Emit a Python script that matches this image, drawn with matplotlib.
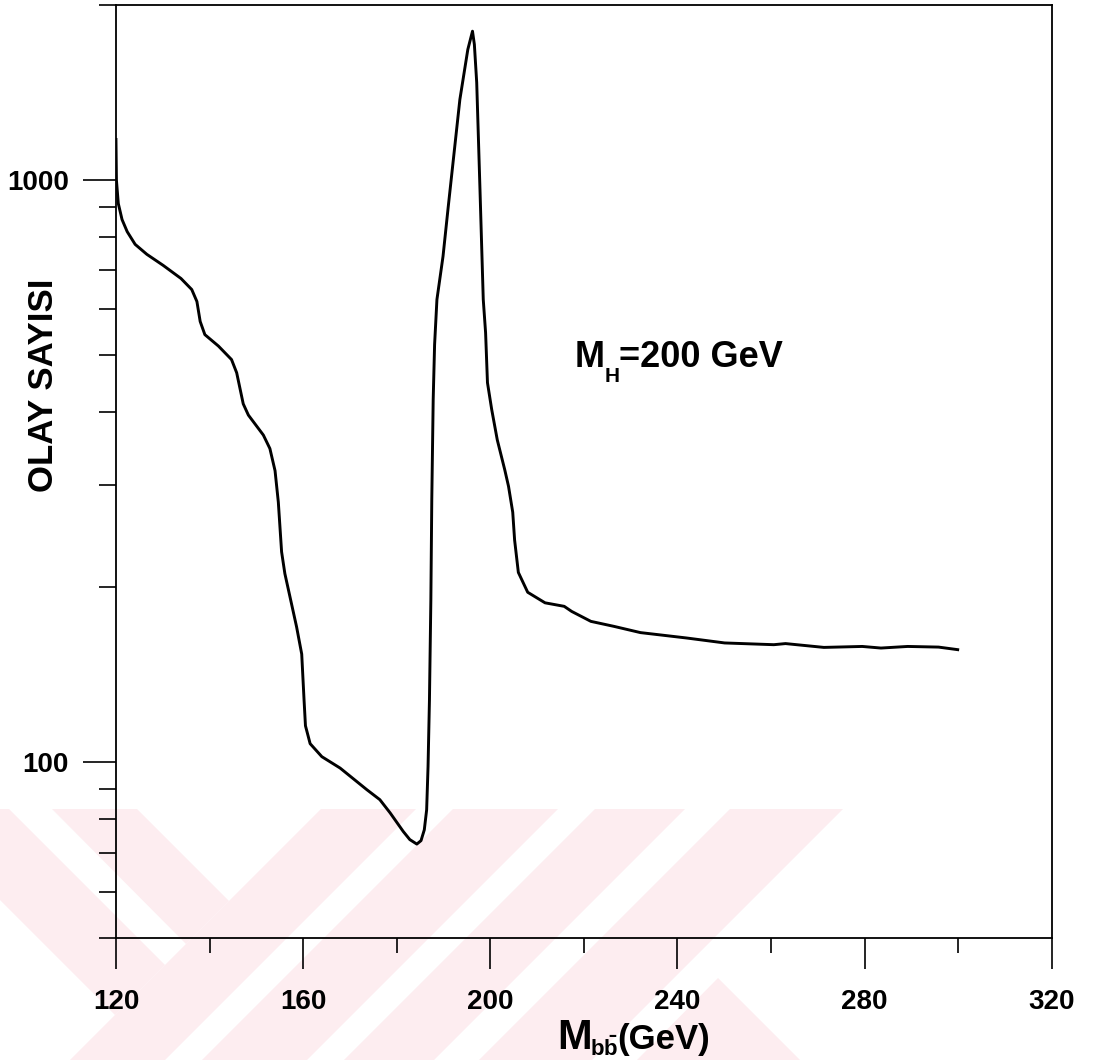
import matplotlib
matplotlib.use("Agg")
import matplotlib.pyplot as plt
from matplotlib.patches import Polygon
from matplotlib.ticker import FixedLocator, NullFormatter

plt.rcParams['font.family'] = ['Liberation Sans', 'DejaVu Sans']
plt.rcParams['mathtext.fontset'] = 'custom'
plt.rcParams['mathtext.rm'] = 'Liberation Sans'
plt.rcParams['mathtext.it'] = 'Liberation Sans'
plt.rcParams['mathtext.bf'] = 'Liberation Sans:bold'

# invariant mass of the b-bbar pair (GeV) and number of events
mbb = [120.0, 120.1, 120.5, 121.3, 122.4, 124.1, 126.6, 130.1, 133.9, 136.2,
       137.3, 138.0, 139.0, 141.9, 144.7, 145.8, 147.2, 148.3, 151.5, 152.9,
       154.0, 154.7, 155.4, 156.1, 157.6, 158.6, 159.7, 160.2, 160.5, 161.5,
       164.0, 167.9, 173.6, 176.4, 178.6, 181.4, 182.8, 184.3, 185.2, 185.9,
       186.4, 186.7, 187.0, 187.3, 187.5, 187.8, 188.1, 188.6, 189.9, 191.0,
       193.5, 195.2, 196.2, 196.6, 197.1, 197.8, 198.5, 199.0, 199.4, 200.3,
       201.5, 203.1, 203.9, 204.8, 205.2, 206.0, 208.0, 211.7, 215.8, 217.4,
       221.5, 226.4, 232.1, 241.9, 250.1, 260.6, 263.1, 271.3, 279.5, 283.5,
       289.2, 295.8, 299.9]
olay = [1175, 1000, 912, 856, 816, 776, 746, 714, 678, 649,
        619, 572, 543, 519, 492, 467, 413, 395, 365, 346,
        317, 280, 230, 211, 186, 171, 153.5, 128, 115.6, 107.7,
        102.3, 97.8, 89.8, 86.3, 81.9, 76.1, 73.7, 72.4, 73.4, 76.6,
        82.9, 98.4, 128, 190, 283, 420, 522, 624, 740, 898,
        1376, 1677, 1803, 1711, 1472, 964, 624, 547, 449, 404,
        358, 318, 298, 269, 241, 212, 196, 188, 185.4, 181.7,
        174.7, 171.3, 167.1, 163.6, 160.4, 159.3, 160.0, 157.6, 158.2, 157.2,
        158.2, 157.8, 156.2]

x_major = [120, 160, 200, 240, 280, 320]
x_minor = [140, 180, 220, 260, 300]
y_major = [100, 1000]
y_minor = [50, 60, 70, 80, 90, 200, 300, 400, 500, 600, 700, 800, 900, 2000]

W, H = 1095, 1060
fig = plt.figure(figsize=(W / 100, H / 100), dpi=100)

# faint stamp in the lower part of the page (pixel coordinates)
bg = fig.add_axes([0, 0, 1, 1], zorder=0)
bg.set_xlim(0, W)
bg.set_ylim(H, 0)
bg.axis('off')
stamp = [
    [(321, 809), (416, 809), (165, 1060), (70, 1060)],
    [(453, 809), (558, 809), (307, 1060), (202, 1060)],
    [(595, 809), (685, 809), (434, 1060), (344, 1060)],
    [(730, 809), (843, 809), (592, 1060), (479, 1060)],
    [(718, 978), (800, 1060), (637, 1060)],
    [(52, 809), (137, 809), (229, 901), (186, 944)],
    [(0, 809), (9, 809), (165, 965), (115, 1015), (0, 900)],
]
for pts in stamp:
    bg.add_patch(Polygon(pts, closed=True, facecolor='#fdedf0', edgecolor='none'))

ax = fig.add_axes([0.1059, 0.1154, 0.8546, 0.8799], zorder=1)
ax.patch.set_alpha(0)
ax.set_yscale('log')
ax.plot(mbb, olay, color='black', lw=2.1, solid_joinstyle='round')

ax.set_xlim(120, 320)
ax.set_ylim(50, 2000)

ax.xaxis.set_major_locator(FixedLocator(x_major))
ax.xaxis.set_minor_locator(FixedLocator(x_minor))
ax.yaxis.set_major_locator(FixedLocator(y_major))
ax.yaxis.set_minor_locator(FixedLocator(y_minor))
ax.yaxis.set_minor_formatter(NullFormatter())
ax.set_xticklabels([str(v) for v in x_major])
ax.set_yticklabels([str(v) for v in y_major])

ax.tick_params(axis='x', which='major', direction='out', length=22, width=1.2,
               pad=15, labelsize=20)
ax.tick_params(axis='x', which='minor', direction='out', length=11, width=1.2)
ax.tick_params(axis='y', which='major', direction='out', length=24, width=1.2,
               pad=10, labelsize=20)
ax.tick_params(axis='y', which='minor', direction='out', length=12, width=1.2)
for lab in ax.get_xticklabels() + ax.get_yticklabels():
    lab.set_fontweight('bold')
for sp in ax.spines.values():
    sp.set_linewidth(1.3)

# M_H label, subscript set lower than mathtext would place it
fig.text(575 / W, 1 - 367 / H, 'M', fontsize=26, fontweight='bold', va='baseline')
fig.text(605 / W, 1 - 382 / H, 'H', fontsize=15, fontweight='bold', va='baseline')
fig.text(619 / W, 1 - 367 / H, '=200 GeV', fontsize=26, fontweight='bold',
         va='baseline')

fig.text(44 / W, 1 - 385 / H, 'OLAY SAYISI', rotation=90, fontweight='bold',
         fontsize=25, ha='center', va='center')

# axis title M_bb(GeV)
fig.text(557 / W, 1 - 1049 / H, 'M', fontsize=30, fontweight='bold', va='baseline')
fig.text(590 / W, 1 - 1056 / H, r'$\mathbf{b\bar{b}}$', fontsize=16, va='baseline')
fig.text(617 / W, 1 - 1049 / H, '(GeV)', fontsize=25, fontweight='bold',
         va='baseline')

fig.savefig('out.png', dpi=100)
